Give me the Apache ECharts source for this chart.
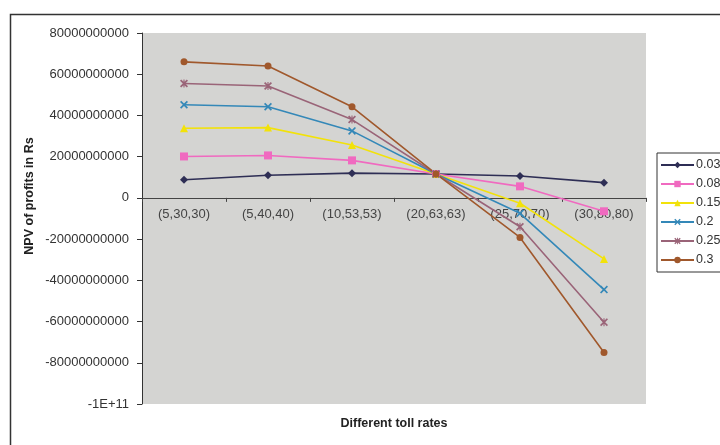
<!DOCTYPE html>
<html>
<head>
<meta charset="utf-8">
<script src="https://cdn.jsdelivr.net/npm/echarts@6/dist/echarts.min.js"></script>
<style>
  html, body { margin: 0; padding: 0; background: #fff; }
  #main { width: 720px; height: 445px; }
</style>
</head>
<body>
<div id="main"></div>
<script>
// toll rate combinations on the x axis
var categories = ['(5,30,30)', '(5,40,40)', '(10,53,53)', '(20,63,63)', '(25,70,70)', '(30,80,80)']
var rates = ['0.03', '0.08', '0.15', '0.2', '0.25', '0.3']

// NPV values
var npv003 = [8.8e9, 1.1e10, 1.2e10, 1.16e10, 1.06e10, 7.4e9]
var npv008 = [2.01e10, 2.06e10, 1.82e10, 1.16e10, 5.6e9, -6.5e9]
var npv015 = [3.38e10, 3.41e10, 2.57e10, 1.16e10, -2.6e9, -2.96e10]
var npv02 = [4.52e10, 4.42e10, 3.25e10, 1.16e10, -7.5e9, -4.45e10]
var npv025 = [5.55e10, 5.43e10, 3.8e10, 1.16e10, -1.4e10, -6.03e10]
var npv03 = [6.6e10, 6.4e10, 4.42e10, 1.16e10, -1.92e10, -7.5e10]

var yMin = -100000000000
var yMax = 80000000000
var yStep = 20000000000

var gridTop = 33
var gridBottom = 41
var chartHeight = 445

var chart = echarts.init(document.getElementById('main'))

// the category axis sits on y = 0, so shift it up from the bottom of the grid
var plotHeight = chartHeight - gridTop - gridBottom
var zeroFromBottom = plotHeight * (0 - yMin) / (yMax - yMin)

var crossPath = 'path://M0,1.5L1.5,0L5,3.5L8.5,0L10,1.5L6.5,5L10,8.5L8.5,10L5,6.5L1.5,10L0,8.5L3.5,5Z'
var starPath = 'path://M0,1.5L1.5,0L5,3.5L8.5,0L10,1.5L6.5,5L10,8.5L8.5,10L5,6.5L1.5,10L0,8.5L3.5,5ZM4.3,0L5.7,0L5.7,10L4.3,10Z'

var styles = [
  { data: npv003, color: '#2e2e55', symbol: 'diamond', size: 8 },
  { data: npv008, color: '#f06ac0', symbol: 'rect', size: 8 },
  { data: npv015, color: '#f2e20a', symbol: 'triangle', size: 8 },
  { data: npv02, color: '#3488b8', symbol: crossPath, size: 8 },
  { data: npv025, color: '#9a6478', symbol: starPath, size: 8 },
  { data: npv03, color: '#a0582c', symbol: 'circle', size: 7 }
]

var series = styles.map(function (s, i) {
  return {
    name: rates[i],
    type: 'line',
    data: s.data,
    symbol: s.symbol,
    symbolSize: s.size,
    showAllSymbol: true,
    lineStyle: { color: s.color, width: 1.6 },
    itemStyle: { color: s.color },
    emphasis: { disabled: true }
  }
})

var option = {
  animation: false,
  backgroundColor: '#fff',
  textStyle: { fontFamily: 'Liberation Sans, Arial, sans-serif' },
  grid: {
    left: 142,
    right: 74,
    top: gridTop,
    bottom: gridBottom,
    show: true,
    backgroundColor: '#d4d4d2',
    borderWidth: 0
  },
  legend: {
    orient: 'vertical',
    left: 657,
    top: 153,
    data: rates,
    itemWidth: 33,
    itemHeight: 8,
    itemGap: 5,
    padding: [5, 6, 5, 3],
    borderColor: '#333',
    borderWidth: 1,
    backgroundColor: '#fff',
    textStyle: { fontSize: 12.5, color: '#333', lineHeight: 14, padding: [0, 0, 0, -3] }
  },
  xAxis: {
    type: 'category',
    data: categories,
    boundaryGap: true,
    position: 'bottom',
    offset: -zeroFromBottom,
    axisLine: { onZero: false, lineStyle: { color: '#444', width: 1 } },
    axisTick: { show: true, length: 4, lineStyle: { color: '#444' } },
    axisLabel: { color: '#444', fontSize: 13, margin: 10, interval: 0 },
    splitLine: { show: false }
  },
  yAxis: {
    type: 'value',
    min: yMin,
    max: yMax,
    interval: yStep,
    axisLine: { show: true, lineStyle: { color: '#333', width: 1 } },
    axisTick: { show: true, length: 5, lineStyle: { color: '#333' } },
    axisLabel: {
      color: '#333',
      fontSize: 13,
      margin: 13,
      formatter: function (v) {
        if (v === yMin) return '-1E+11'
        return String(v)
      }
    },
    splitLine: { show: false }
  },
  graphic: [
    {
      type: 'rect',
      left: 8,
      top: 12,
      shape: { width: 730, height: 450 },
      style: { fill: null, stroke: '#333', lineWidth: 1.5 },
      silent: true,
      z: -1
    },
    {
      type: 'text',
      x: 30,
      y: 196,
      rotation: Math.PI / 2,
      style: {
        text: 'NPV of profits in Rs',
        font: 'bold 12.5px Liberation Sans, Arial, sans-serif',
        fill: '#222',
        align: 'center',
        verticalAlign: 'middle'
      }
    },
    {
      type: 'text',
      x: 394,
      y: 424,
      style: {
        text: 'Different toll rates',
        font: 'bold 12.5px Liberation Sans, Arial, sans-serif',
        fill: '#222',
        align: 'center',
        verticalAlign: 'middle'
      }
    }
  ],
  series: series
}

chart.setOption(option, true)
window.addEventListener('resize', function () {
  chart.resize()
})
</script>
</body>
</html>
